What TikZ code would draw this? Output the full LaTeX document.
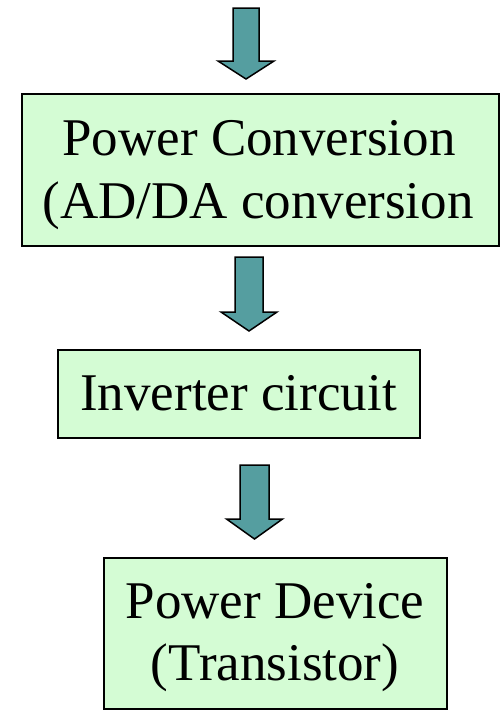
\documentclass[tikz,border=0pt]{standalone}
\usepackage{fontspec}
\setmainfont{Liberation Serif}
\definecolor{boxfill}{RGB}{212,252,212}
\definecolor{arrfill}{RGB}{85,158,160}
\tikzset{
  box/.style={draw=black, line width=2pt, fill=boxfill, rectangle, inner sep=0pt},
  txt/.style={anchor=base, inner sep=0pt, font=\fontsize{53}{63}\selectfont},
  blockarrow/.style={draw=black, line width=1.5pt, fill=arrfill, line join=miter}
}
\newcommand\myblockarrow[6]{% cx, ytop, yshaftend, ytip, shaft half, head half
  \draw[blockarrow] (#1-#5,#2) -- (#1+#5,#2) -- (#1+#5,#3) -- (#1+#6,#3) -- (#1,#4) -- (#1-#6,#3) -- (#1-#5,#3) -- cycle;}
\begin{document}
\begin{tikzpicture}[x=1pt,y=-1pt]
\useasboundingbox (0,0) rectangle (501,715);
% boxes
\node[box, minimum width=477pt, minimum height=152pt] (b1) at (260.5,170) {};
\node[box, minimum width=362pt, minimum height=88pt] (b2) at (239,394) {};
\node[box, minimum width=343pt, minimum height=151pt] (b3) at (275.5,633.5) {};
% texts
\node[txt] (t1a) at (259,155) {Power Conversion};
\node[txt] (t1b) at (258,218) {(AD/DA conversion};
\node[txt] (t2) at (238.5,410) {Inverter circuit};
\node[txt] (t3a) at (275,618) {Power Device};
\node[txt] (t3b) at (275,680) {(Transistor)};
% arrows
\myblockarrow{246}{8}{61}{79}{13}{28}
\myblockarrow{249}{257}{312}{331}{14}{28}
\myblockarrow{254.5}{465}{519}{539}{14.5}{28}
\end{tikzpicture}
\end{document}
